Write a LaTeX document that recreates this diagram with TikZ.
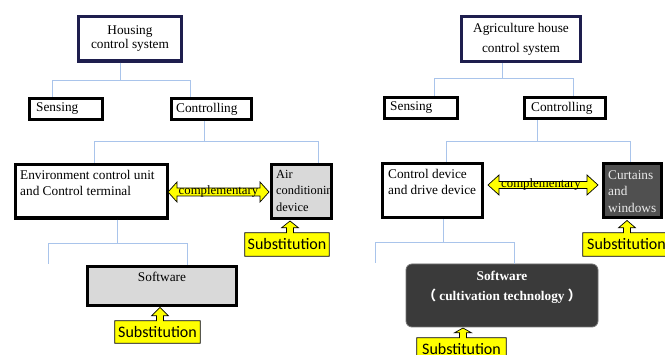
\documentclass[tikz,border=0pt]{standalone}
\usepackage{fontspec}
\setmainfont{Liberation Serif}
\newfontfamily\calib{Carlito}
\newfontfamily\cjk{Noto Sans CJK SC}
\usetikzlibrary{fit,calc}
\pgfdeclarelayer{bg}
\pgfsetlayers{bg,main}
\definecolor{navy}{HTML}{1E1E4E}
\definecolor{connc}{HTML}{A9C4EB}
\definecolor{lgray}{HTML}{D9D9D9}
\definecolor{dgray}{HTML}{505050}
\definecolor{sgray}{HTML}{3A3A3A}
\definecolor{yel}{HTML}{FFFF00}
\newcommand\dblarr[5]{%
  \draw[yarrow] (#1,#3) -- (#1+#4,#3-10) -- (#1+#4,#3-#5) -- (#2-#4,#3-#5) -- (#2-#4,#3-10) -- (#2,#3)
    -- (#2-#4,#3+10) -- (#2-#4,#3+#5) -- (#1+#4,#3+#5) -- (#1+#4,#3+10) -- cycle;}
\newcommand\callout[2]{%
  \begin{pgfonlayer}{bg}
  \draw[yarrow] (#1.north west) -- ($(#1.north west -| #2)+(-3.5,0)$) -- ++(0,-5) -- ++(-5,0) -- (#2)
    -- ($(#1.north west -| #2)+(8.5,-5)$) -- ++(-5,0) -- ++(0,5) -- (#1.north east)
    -- (#1.south east) -- (#1.south west) -- cycle;
  \end{pgfonlayer}}
\begin{document}
\begin{tikzpicture}[x=1pt,y=-1pt,
  txt/.style={font=\fontsize{13.3}{16.5}\selectfont, inner sep=0, align=left},
  topbox/.style={draw=navy, line width=3.4pt, inner sep=0},
  box/.style={draw=black, line width=3.4pt, inner sep=0},
  conn/.style={draw=connc, line width=0.9pt},
  yarrow/.style={fill=yel, draw=black, line width=0.7pt, line join=miter},
  subst/.style={font=\calib\fontsize{16}{18}\selectfont, inner sep=0, minimum height=23, text=black},
]
\useasboundingbox (0,0) rectangle (665,355);

% ---------- left diagram ----------
\node[topbox, fit={(78.5,16.5)(181.5,61)}] (house) {};
\node[txt, align=center, font=\fontsize{13.3}{14}\selectfont] (houset) at (130,39) {Housing\\control system};
\node[box, fit={(29.5,98.5)(102.5,119.5)}] (sens1) {};
\node[txt, anchor=west] (sens1t) at (36,109) {Sensing};
\node[box, fit={(171.5,98.5)(251.5,119.5)}] (ctrl1) {};
\node[txt, anchor=west] (ctrl1t) at (176,109) {Controlling};
\node[box, fit={(15.5,164.5)(167.5,218)}] (env) {};
\node[txt, anchor=north west] (envt) at (20,170) {Environment control unit\\and Control terminal};
\node[fill=lgray, inner sep=0, outer sep=0, fit={(271.5,164.5)(331.5,218.5)}] (air) {};
\begin{scope}
\clip (air.north west) rectangle (air.south east);
\node[txt, anchor=north west, font=\fontsize{12.4}{16.5}\selectfont] (airt) at (276,170) {Air\\conditioning\\device};
\end{scope}
\draw[black, line width=3.4pt] (air.north west) rectangle (air.south east);
\node[box, fill=lgray, fit={(87.5,266.5)(236.5,305.5)}] (soft1) {};
\node[txt] (soft1t) at (162,277) {Software};

\coordinate (a1) at (120,80); \coordinate (a1l) at (52,80); \coordinate (a1r) at (190,80);
\draw[conn] (house.south -| a1) -- (a1);
\draw[conn] (sens1.north -| a1l) -- (a1l) -- (a1r) -- (ctrl1.north -| a1r);
\coordinate (a2) at (204,141); \coordinate (a2l) at (94,141); \coordinate (a2r) at (318,141);
\draw[conn] (ctrl1.south -| a2) -- (a2);
\draw[conn] (env.north -| a2l) -- (a2l) -- (a2r) -- ($(air.north -| a2r)+(0,-1.7)$);
\coordinate (a3) at (117,243); \coordinate (a3l) at (48,243); \coordinate (a3r) at (187,243);
\coordinate (a3e) at (48,264);
\draw[conn] (env.south -| a3) -- (a3);
\draw[conn] (a3e) -- (a3l) -- (a3r) -- (soft1.north -| a3r);

\dblarr{168}{269}{192}{9}{4}
\node[txt, font=\fontsize{12.8}{15}\selectfont] (comp1) at (218.5,191) {complementary};

\coordinate (tipA) at (290,221);
\node[subst, minimum width=84] (sA) at (287,244.5) {Substitution};
\callout{sA}{tipA}
\coordinate (tipB) at (160,307.5);
\node[subst, minimum width=85, minimum height=22] (sB) at (157.5,332) {Substitution};
\callout{sB}{tipB}

% ---------- right diagram ----------
\node[topbox, fit={(461.5,16.5)(580.5,61.5)}] (agri) {};
\node[txt, align=center, font=\fontsize{13.3}{20}\selectfont] (agrit) at (521,39) {Agriculture house\\control system};
\node[box, fit={(384.5,97.5)(457.5,118.5)}] (sens2) {};
\node[txt, anchor=west] (sens2t) at (390,108) {Sensing};
\node[box, fit={(524.5,97.5)(605.5,118.5)}] (ctrl2) {};
\node[txt, anchor=west] (ctrl2t) at (531,108) {Controlling};
\node[box, fit={(382.5,163.5)(482.5,217.5)}] (cdev) {};
\node[txt, anchor=north west] (cdevt) at (388,169) {Control device\\and drive device};
\node[box, fill=dgray, fit={(603.5,163.5)(661.5,217.5)}] (curt) {};
\node[txt, anchor=north west, text=black!8] (curtt) at (608,170) {Curtains\\and\\windows};
\node[fit={(406,264)(598,327)}, inner sep=0, rounded corners=6pt, fill=sgray, draw=black!55, line width=0.8pt] (soft2) {};
\node[txt, align=center, font=\bfseries\fontsize{13.3}{20}\selectfont, text=white] (soft2t) at (502,287)
  {Software\\{\cjk（} cultivation technology {\cjk）}};

\coordinate (b1) at (502,78); \coordinate (b1l) at (434,78); \coordinate (b1r) at (573,78);
\draw[conn] (agri.south -| b1) -- (b1);
\draw[conn] (sens2.north -| b1l) -- (b1l) -- (b1r) -- (ctrl2.north -| b1r);
\coordinate (b2) at (537,141); \coordinate (b2l) at (446,141); \coordinate (b2r) at (630,141);
\draw[conn] (ctrl2.south -| b2) -- (b2);
\draw[conn] (cdev.north -| b2l) -- (b2l) -- (b2r) -- (curt.north -| b2r);
\coordinate (b3) at (443,242); \coordinate (b3l) at (375,242); \coordinate (b3r) at (514,242);
\coordinate (b3e) at (375,263);
\draw[conn] (cdev.south -| b3) -- (b3);
\draw[conn] (b3e) -- (b3l) -- (b3r) -- (soft2.north -| b3r);

\dblarr{488}{598}{185}{11}{3.5}
\node[txt, font=\fontsize{12.8}{15}\selectfont] (comp2) at (541,184) {complementary};

\coordinate (tipC) at (627,220.5);
\node[subst, minimum width=87] (sC) at (626.5,244.5) {Substitution};
\callout{sC}{tipC}
\coordinate (tipD) at (463,328);
\node[subst, minimum width=89] (sD) at (461.5,349.5) {Substitution};
\callout{sD}{tipD}
\end{tikzpicture}
\end{document}
